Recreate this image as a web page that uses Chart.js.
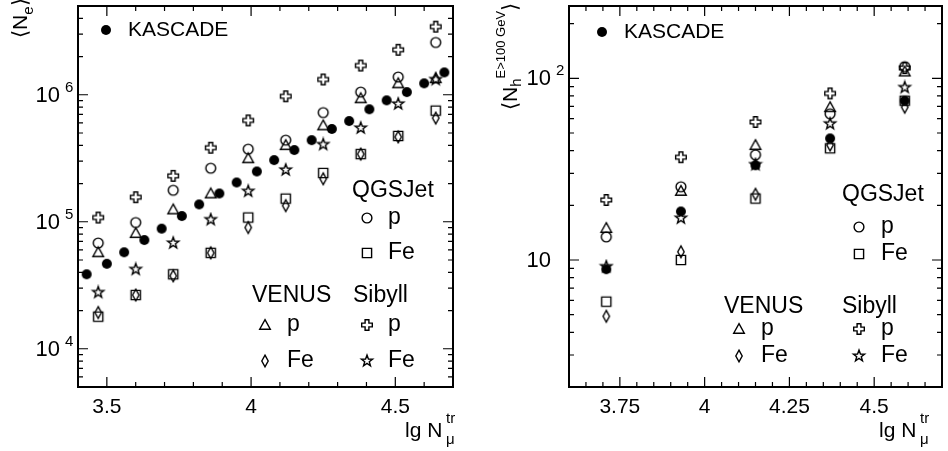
<!DOCTYPE html>
<html>
<head>
<meta charset="utf-8">
<script src="https://cdn.jsdelivr.net/npm/chart.js@4.4.1/dist/chart.umd.min.js"></script>
<style>
html, body { margin: 0; padding: 0; background: #fff; }
#wrap { position: relative; width: 948px; height: 451px; }
#wrap canvas { position: absolute; top: 0; }
</style>
</head>
<body>
<div id="wrap">
  <canvas id="ne" width="474" height="451" style="left:0"></canvas>
  <canvas id="nh" width="474" height="451" style="left:474px"></canvas>
</div>
<script>
// left panel: <Ne> vs lg Nmu
const neKascadeX = [3.43, 3.50, 3.56, 3.63, 3.69, 3.76, 3.82, 3.89, 3.95, 4.02,
                    4.08, 4.15, 4.21, 4.28, 4.34, 4.41, 4.47, 4.54, 4.60, 4.67];
const neKascade = [38600, 46700, 57500, 71800, 88300, 111000, 137000, 167000, 204000, 249000,
                   306000, 367000, 439000, 538000, 621000, 769000, 904000, 1050000, 1230000, 1500000];
const neSimX = [3.47, 3.60, 3.73, 3.86, 3.99, 4.12, 4.25, 4.38, 4.51, 4.64];
const neQgsP = [68000, 98600, 177000, 264000, 373000, 439000, 724000, 1050000, 1380000, 2580000];
const neQgsFe = [17900, 26500, 38600, 56900, 108000, 152000, 242000, 341000, 474000, 750000];
const neVenusP = [57500, 81400, 125000, 167000, 316000, 401000, 574000, 938000, 1230000, 1350000];
const neVenusFe = [19300, 26500, 37500, 56900, 90100, 134000, 218000, 341000, 466000, 655000];
const neSibyllP = [108000, 156000, 230000, 383000, 628000, 973000, 1320000, 1700000, 2260000, 3440000];
const neSibyllFe = [27800, 42200, 68000, 104000, 174000, 256000, 406000, 547000, 847000, 1320000];

// right panel: <Nh (E>100 GeV)> vs lg Nmu
const nhX = [3.71, 3.93, 4.15, 4.37, 4.59];
const nhKascade = [8.9, 18.5, 33.2, 46.7, 75.3];
const nhQgsP = [13.4, 25.3, 37.9, 63.8, 116];
const nhQgsFe = [5.9, 10.0, 21.8, 41.2, 75.3];
const nhVenusP = [15.0, 24.0, 42.9, 69.3, 109];
const nhVenusFe = [4.9, 11.1, 23.0, 42.9, 69.3];
const nhSibyllP = [21.4, 36.8, 57.5, 82.6, 114];
const nhSibyllFe = [9.2, 17.0, 33.5, 56.2, 89];

// tick labels
const neXTicks = [3.5, 4, 4.5];
const neYTicks = [1e4, 1e5, 1e6];
const neYLabels = [['10', '4'], ['10', '5'], ['10', '6']];
const nhXTicks = [3.75, 4, 4.25, 4.5];
const nhYTicks = [10, 100];
const nhYLabels = [['10', ''], ['10', '2']];

const FONT = '"Liberation Sans", Arial, Helvetica, sans-serif';

function makeMarker(shape) {
  const c = document.createElement('canvas');
  c.width = 16; c.height = 16;
  const g = c.getContext('2d');
  g.translate(8, 8);
  g.lineWidth = 1.4;
  g.strokeStyle = '#000';
  g.fillStyle = '#000';
  g.beginPath();
  if (shape === 'dot') {
    g.arc(0, 0, 5, 0, Math.PI * 2);
    g.fill();
    return c;
  }
  if (shape === 'circle') {
    g.arc(0, 0, 4.9, 0, Math.PI * 2);
  } else if (shape === 'square') {
    g.rect(-4.6, -4.6, 9.2, 9.2);
  } else if (shape === 'triangle') {
    g.moveTo(0, -5.4); g.lineTo(5.3, 4.2); g.lineTo(-5.3, 4.2); g.closePath();
  } else if (shape === 'diamond') {
    g.moveTo(0, -5.8); g.lineTo(3.2, 0); g.lineTo(0, 5.8); g.lineTo(-3.2, 0); g.closePath();
  } else if (shape === 'cross') {
    const w = 1.9, r = 5.3;
    const pts = [[-w, -r], [w, -r], [w, -w], [r, -w], [r, w], [w, w], [w, r], [-w, r], [-w, w], [-r, w], [-r, -w], [-w, -w]];
    pts.forEach((p, i) => i ? g.lineTo(p[0], p[1]) : g.moveTo(p[0], p[1]));
    g.closePath();
  } else if (shape === 'star') {
    for (let i = 0; i < 10; i++) {
      const r = i % 2 ? 2.4 : 5.9;
      const ang = -Math.PI / 2 + i * Math.PI / 5;
      const px = r * Math.cos(ang), py = r * Math.sin(ang);
      i ? g.lineTo(px, py) : g.moveTo(px, py);
    }
    g.closePath();
  }
  g.stroke();
  return c;
}

const markers = {};
['dot', 'circle', 'square', 'triangle', 'diamond', 'cross', 'star'].forEach(s => markers[s] = makeMarker(s));

function pts(xs, ys) {
  return ys.map((v, i) => ({x: xs[i], y: v}));
}

function ds(label, xs, ys, shape) {
  return {label: label, data: pts(xs, ys), pointStyle: markers[shape], pointRadius: 5, pointHoverRadius: 5};
}

function range(from, to, step) {
  const out = [];
  for (let v = from; v <= to + 1e-9; v += step) out.push(+v.toFixed(3));
  return out;
}

function logMinor(lo, hi) {
  const out = [];
  for (let d = Math.floor(Math.log10(lo)); d <= Math.ceil(Math.log10(hi)); d++) {
    for (let k = 2; k <= 9; k++) {
      const v = k * Math.pow(10, d);
      if (v >= lo && v <= hi) out.push(v);
    }
  }
  return out;
}

function textAt(ctx, str, x, y, size, align, base) {
  ctx.font = size + 'px ' + FONT;
  ctx.textAlign = align || 'left';
  ctx.textBaseline = base || 'middle';
  ctx.fillText(str, x, y);
}

function decor(cfg) {
  return {
    id: 'decor',
    beforeDatasetsDraw(chart) {
      const {ctx, chartArea: a, scales: {x, y}} = chart;
      ctx.save();
      ctx.strokeStyle = '#000';
      ctx.fillStyle = '#000';
      ctx.lineWidth = 1.2;
      ctx.beginPath();
      const xt = (v, len) => {
        const px = x.getPixelForValue(v);
        ctx.moveTo(px, a.bottom); ctx.lineTo(px, a.bottom - len);
        ctx.moveTo(px, a.top); ctx.lineTo(px, a.top + len);
      };
      const yt = (v, len) => {
        const py = y.getPixelForValue(v);
        ctx.moveTo(a.left, py); ctx.lineTo(a.left + len, py);
        ctx.moveTo(a.right, py); ctx.lineTo(a.right - len, py);
      };
      cfg.xMinor.forEach(v => xt(v, 5));
      cfg.xTicks.forEach(v => xt(v, 10));
      cfg.yMinor.forEach(v => yt(v, 5));
      cfg.yTicks.forEach(v => yt(v, 10));
      ctx.stroke();
      ctx.lineWidth = 2;
      ctx.strokeRect(a.left, a.top, a.right - a.left, a.bottom - a.top);

      cfg.xTicks.forEach(v => textAt(ctx, String(v), x.getPixelForValue(v), a.bottom + 20, 21, 'center'));
      cfg.yTicks.forEach((v, i) => {
        const py = y.getPixelForValue(v);
        const lab = cfg.yLabels[i];
        textAt(ctx, lab[0], a.left - 18, py + 1, 22, 'right');
        if (lab[1]) textAt(ctx, lab[1], a.left - 13, py - 7, 15, 'left');
      });

      // x title
      textAt(ctx, 'lg N', 405, 437, 21, 'left', 'alphabetic');
      textAt(ctx, 'tr', 446, 423, 15, 'left', 'alphabetic');
      textAt(ctx, 'μ', 446, 444, 15, 'left', 'alphabetic');

      // y title, rotated
      ctx.save();
      ctx.translate(cfg.yTitle.x, cfg.yTitle.y);
      ctx.rotate(-Math.PI / 2);
      let cx = 0;
      cfg.yTitle.parts.forEach(p => {
        ctx.font = p[1] + 'px ' + FONT;
        ctx.textAlign = 'left';
        ctx.textBaseline = 'alphabetic';
        ctx.fillText(p[0], cx, p[2]);
        cx += ctx.measureText(p[0]).width;
      });
      ctx.restore();
      ctx.restore();
    },
    afterDatasetsDraw(chart) {
      const ctx = chart.ctx;
      ctx.save();
      ctx.fillStyle = '#000';
      cfg.legend.forEach(it => {
        if (it.marker) ctx.drawImage(markers[it.marker], it.x - 8, it.y - 8);
        else textAt(ctx, it.text, it.x, it.y, it.size, 'left');
      });
      ctx.restore();
    }
  };
}

function makeChart(id, datasets, xMin, xMax, yMin, yMax, padLeft, padRight, cfg) {
  return new Chart(document.getElementById(id), {
    type: 'scatter',
    data: {datasets: datasets},
    options: {
      responsive: false,
      animation: false,
      layout: {padding: {left: padLeft, right: padRight, top: 1, bottom: 64}},
      scales: {
        x: {type: 'linear', min: xMin, max: xMax, display: false},
        y: {type: 'logarithmic', min: yMin, max: yMax, display: false}
      },
      plugins: {legend: {display: false}, tooltip: {enabled: false}}
    },
    plugins: [decor(cfg)]
  });
}

makeChart('ne', [
  ds('KASCADE', neKascadeX, neKascade, 'dot'),
  ds('QGSJet p', neSimX, neQgsP, 'circle'),
  ds('QGSJet Fe', neSimX, neQgsFe, 'square'),
  ds('VENUS p', neSimX, neVenusP, 'triangle'),
  ds('VENUS Fe', neSimX, neVenusFe, 'diamond'),
  ds('Sibyll p', neSimX, neSibyllP, 'cross'),
  ds('Sibyll Fe', neSimX, neSibyllFe, 'star')
], 3.4, 4.7, 5000, 5e6, 78, 21, {
  xTicks: neXTicks, xMinor: range(3.4, 4.7, 0.1),
  yTicks: neYTicks, yLabels: neYLabels, yMinor: logMinor(5000, 5e6),
  yTitle: {x: 27, y: 38, parts: [['⟨', 21, 0], ['N', 21, 0], ['e', 15, 6], ['⟩', 21, 0]]},
  legend: [
    {marker: 'dot', x: 106, y: 30}, {text: 'KASCADE', x: 128, y: 30, size: 21},
    {text: 'QGSJet', x: 352, y: 191, size: 23},
    {marker: 'circle', x: 367, y: 218}, {text: 'p', x: 388, y: 218, size: 23},
    {marker: 'square', x: 367, y: 253}, {text: 'Fe', x: 388, y: 253, size: 23},
    {text: 'VENUS', x: 252, y: 296, size: 23}, {text: 'Sibyll', x: 353, y: 296, size: 23},
    {marker: 'triangle', x: 265, y: 325}, {text: 'p', x: 287, y: 325, size: 23},
    {marker: 'cross', x: 367, y: 325}, {text: 'p', x: 388, y: 325, size: 23},
    {marker: 'diamond', x: 265, y: 361}, {text: 'Fe', x: 287, y: 361, size: 23},
    {marker: 'star', x: 367, y: 361}, {text: 'Fe', x: 388, y: 361, size: 23}
  ]
});

makeChart('nh', [
  ds('KASCADE', nhX, nhKascade, 'dot'),
  ds('QGSJet p', nhX, nhQgsP, 'circle'),
  ds('QGSJet Fe', nhX, nhQgsFe, 'square'),
  ds('VENUS p', nhX, nhVenusP, 'triangle'),
  ds('VENUS Fe', nhX, nhVenusFe, 'diamond'),
  ds('Sibyll p', nhX, nhSibyllP, 'cross'),
  ds('Sibyll Fe', nhX, nhSibyllFe, 'star')
], 3.6, 4.7, 2, 250, 95, 4, {
  xTicks: nhXTicks, xMinor: range(3.6, 4.7, 0.05),
  yTicks: nhYTicks, yLabels: nhYLabels, yMinor: logMinor(2, 250),
  yTitle: {x: 43, y: 110, parts: [['⟨', 21, 0], ['N', 21, 0], ['h', 15, 4], ['E>100 GeV', 13, -12], ['⟩', 21, 0]]},
  legend: [
    {marker: 'dot', x: 128, y: 32}, {text: 'KASCADE', x: 150, y: 32, size: 21},
    {text: 'QGSJet', x: 368, y: 195, size: 23},
    {marker: 'circle', x: 385, y: 227}, {text: 'p', x: 407, y: 227, size: 23},
    {marker: 'square', x: 385, y: 254}, {text: 'Fe', x: 407, y: 254, size: 23},
    {text: 'VENUS', x: 250, y: 307, size: 23}, {text: 'Sibyll', x: 368, y: 307, size: 23},
    {marker: 'triangle', x: 265, y: 329}, {text: 'p', x: 287, y: 329, size: 23},
    {marker: 'cross', x: 385, y: 329}, {text: 'p', x: 407, y: 329, size: 23},
    {marker: 'diamond', x: 265, y: 356}, {text: 'Fe', x: 287, y: 356, size: 23},
    {marker: 'star', x: 385, y: 356}, {text: 'Fe', x: 407, y: 356, size: 23}
  ]
});
</script>
</body>
</html>
